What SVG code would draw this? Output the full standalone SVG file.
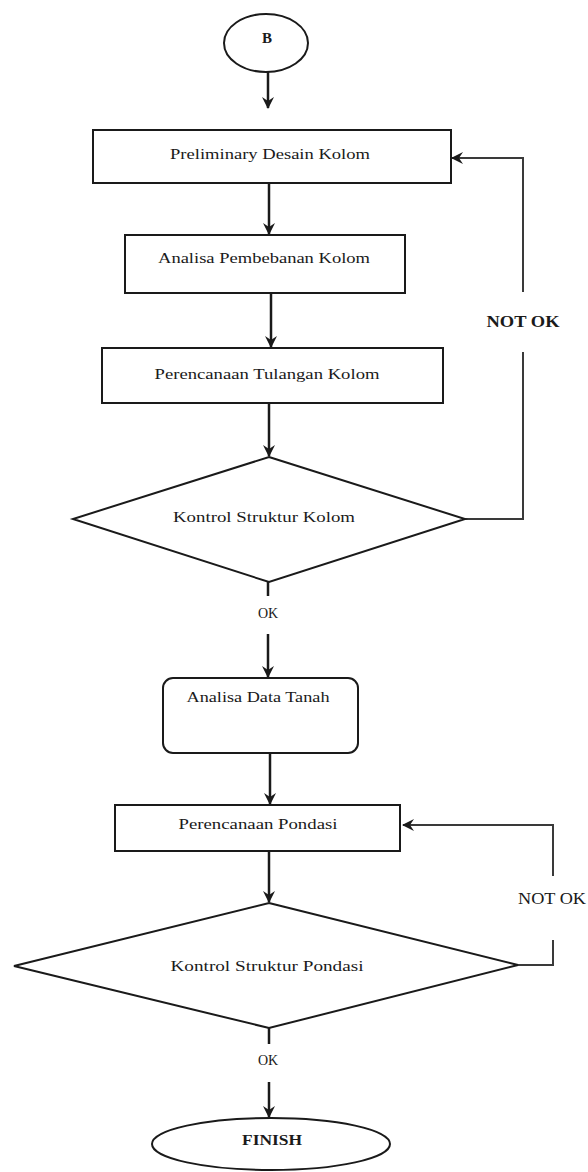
<svg xmlns="http://www.w3.org/2000/svg" width="588" height="1172" viewBox="0 0 588 1172">
  <style>
    .shape { fill: #ffffff; stroke: #1a1a1a; stroke-width: 2; }
    .label { font-family: "Liberation Serif", "Times New Roman", serif; font-size: 15px; fill: #1a1a1a; text-anchor: middle; dominant-baseline: central; }
    .bold { font-weight: bold; }
    .flow { fill: none; stroke: #1a1a1a; stroke-width: 2.5; }
    .loop { fill: none; stroke: #3a3a3a; stroke-width: 2; }
  </style>
  <defs>
    <marker id="arrow" viewBox="0 0 12 12" refX="11" refY="6" markerWidth="12" markerHeight="12" markerUnits="userSpaceOnUse" orient="auto">
      <path d="M0,0 L12,6 L0,12 L4,6 Z" fill="#1a1a1a"/>
    </marker>
  </defs>
  <rect width="588" height="1172" fill="#ffffff"/>

  <!-- connectors -->
  <g id="connectors">
    <line class="flow" x1="268" y1="72" x2="268" y2="108" marker-end="url(#arrow)"/>
    <line class="flow" x1="269" y1="183" x2="269" y2="234" marker-end="url(#arrow)"/>
    <line class="flow" x1="271" y1="293" x2="271" y2="347" marker-end="url(#arrow)"/>
    <line class="flow" x1="269" y1="403" x2="269" y2="456" marker-end="url(#arrow)"/>
    <line class="flow" x1="268" y1="582" x2="268" y2="596"/>
    <line class="flow" x1="268" y1="634" x2="268" y2="677" marker-end="url(#arrow)"/>
    <line class="flow" x1="270" y1="753" x2="270" y2="804" marker-end="url(#arrow)"/>
    <line class="flow" x1="269" y1="851" x2="269" y2="902" marker-end="url(#arrow)"/>
    <line class="flow" x1="269" y1="1028" x2="269" y2="1044"/>
    <line class="flow" x1="269" y1="1082" x2="269" y2="1117" marker-end="url(#arrow)"/>

    <!-- column check loop back to preliminary design -->
    <polyline class="loop" points="465,519 523,519 523,352"/>
    <polyline class="loop" points="523,292 523,158 452,158" marker-end="url(#arrow)"/>

    <!-- foundation check loop back to foundation design -->
    <polyline class="loop" points="518,965 553,965 553,940"/>
    <polyline class="loop" points="553,876 553,825 403,825" marker-end="url(#arrow)"/>

    <text class="label bold" x="523" y="321" style="font-size:17px" textLength="73" lengthAdjust="spacingAndGlyphs">NOT OK</text>
    <text class="label" x="552" y="898" style="font-size:16px" textLength="68" lengthAdjust="spacingAndGlyphs">NOT OK</text>
    <text class="label" x="268" y="613" style="font-size:14px">OK</text>
    <text class="label" x="268" y="1060" style="font-size:14px">OK</text>
  </g>

  <g id="start">
    <ellipse class="shape" cx="266" cy="43" rx="42" ry="29"/>
    <text class="label bold" x="267" y="38" style="font-size:15px">B</text>
  </g>

  <g id="preliminary-design">
    <rect class="shape" x="93" y="130" width="358" height="53"/>
    <text class="label" x="270" y="154" textLength="200" lengthAdjust="spacingAndGlyphs">Preliminary Desain  Kolom</text>
  </g>

  <g id="load-analysis">
    <rect class="shape" x="125" y="235" width="280" height="58"/>
    <text class="label" x="264" y="258" textLength="212" lengthAdjust="spacingAndGlyphs">Analisa Pembebanan Kolom</text>
  </g>

  <g id="reinforcement-design">
    <rect class="shape" x="102" y="348" width="341" height="55"/>
    <text class="label" x="267" y="374" textLength="225" lengthAdjust="spacingAndGlyphs">Perencanaan Tulangan Kolom</text>
  </g>

  <g id="column-check">
    <polygon class="shape" points="269,457 465,519 269,582 73,519"/>
    <text class="label" x="264" y="517" textLength="182" lengthAdjust="spacingAndGlyphs">Kontrol Struktur Kolom</text>
  </g>

  <g id="soil-data">
    <rect class="shape" x="163" y="678" width="195" height="75" rx="10" ry="10"/>
    <text class="label" x="258" y="697" textLength="143" lengthAdjust="spacingAndGlyphs">Analisa Data Tanah</text>
  </g>

  <g id="foundation-design">
    <rect class="shape" x="115" y="805" width="285" height="46"/>
    <text class="label" x="258" y="824" textLength="159" lengthAdjust="spacingAndGlyphs">Perencanaan Pondasi</text>
  </g>

  <g id="foundation-check">
    <polygon class="shape" points="269,903 518,965 269,1028 14,966"/>
    <text class="label" x="267" y="966" textLength="193" lengthAdjust="spacingAndGlyphs">Kontrol Struktur Pondasi</text>
  </g>

  <g id="finish">
    <ellipse class="shape" cx="271" cy="1144" rx="119" ry="26"/>
    <text class="label bold" x="272" y="1140" style="font-size:15px" textLength="60" lengthAdjust="spacingAndGlyphs">FINISH</text>
  </g>
</svg>
